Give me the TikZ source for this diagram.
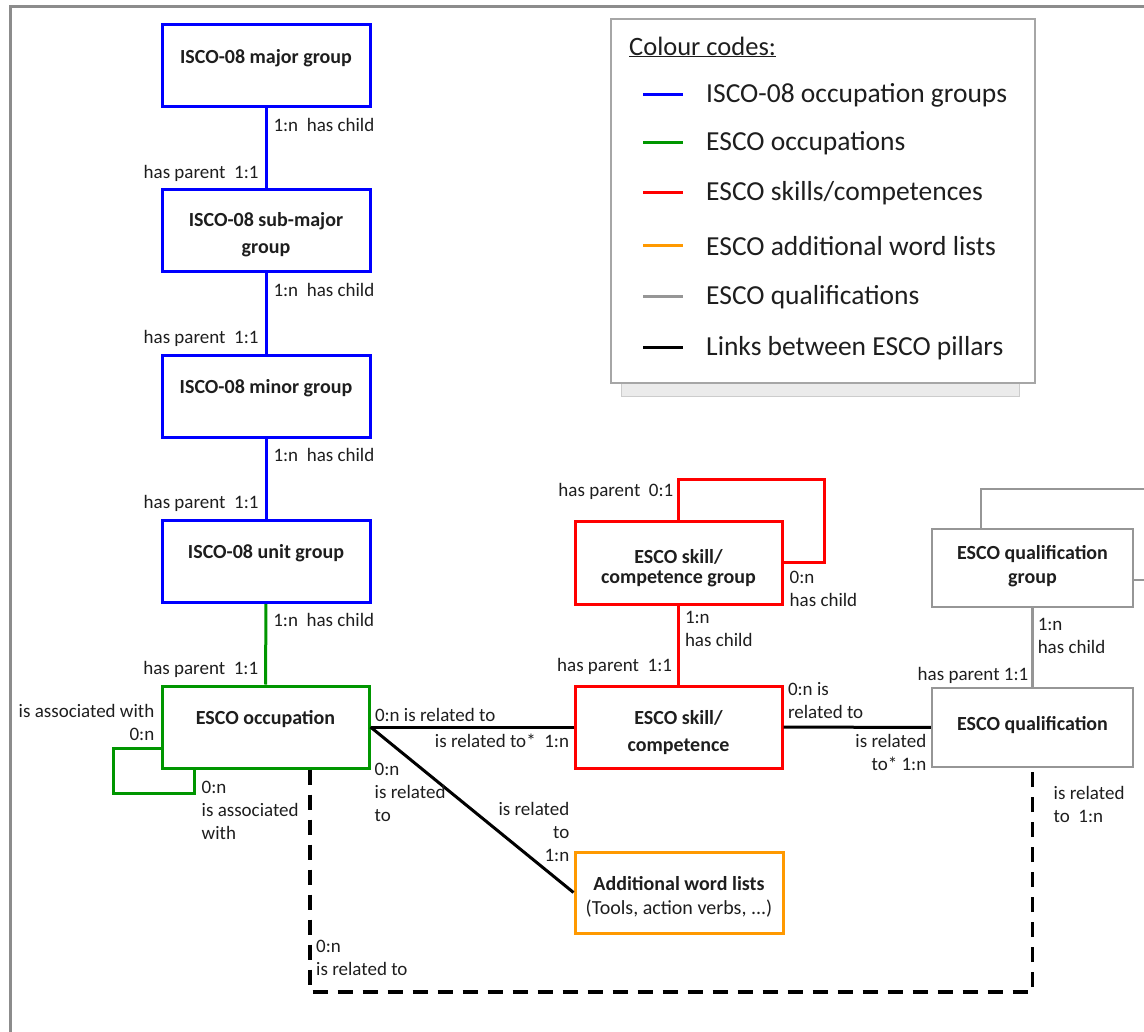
\documentclass[tikz,border=0pt]{standalone}
\usepackage{fontspec}
\setmainfont{Carlito}
\usetikzlibrary{calc}
\definecolor{IscoBlue}{RGB}{0,0,255}
\definecolor{OccGreen}{RGB}{0,150,0}
\definecolor{SkillRed}{RGB}{255,0,0}
\definecolor{WordOrange}{RGB}{255,153,0}
\definecolor{QualGray}{RGB}{150,150,150}
\definecolor{FrameGray}{RGB}{140,140,140}
\definecolor{TextInk}{RGB}{30,30,30}
\tikzset{
  box/.style={draw, line width=3pt, minimum width=208pt, minimum height=82pt,
              align=center, text=TextInk, font=\bfseries\fontsize{20}{27}\selectfont},
  lift/.style={text depth=20pt},   % one-line boxes: text sits above the centre
  lbl/.style={text=TextInk, font=\fontsize{19}{23}\selectfont, inner sep=3pt},
  legtxt/.style={text=TextInk, font=\fontsize{27.5}{32}\selectfont, inner sep=0pt},
  iscoline/.style={draw=IscoBlue, line width=3pt},
  occline/.style={draw=OccGreen, line width=3pt},
  skillline/.style={draw=SkillRed, line width=3pt},
  qualline/.style={draw=QualGray, line width=2.5pt},
  pillarline/.style={draw=black, line width=3pt},
}

\begin{document}
\begin{tikzpicture}[x=1pt,y=-1pt]
  \path[use as bounding box, clip] (0,0) rectangle (1144,1032);
  % outer frame, cut off at the right and the bottom
  \draw[FrameGray, line width=3pt] (10,1040) -- (10,7) -- (1150,7);

  % legend
  \fill[black!8] (621,370) rectangle (1019,396);
  \draw[black!20] (621,370) rectangle (1019,396);
  \node[draw=black!35, fill=white, line width=1.5pt, minimum width=424pt,
        minimum height=364pt] (legend) at (823,201) {};
  \node[legtxt, anchor=west, font=\fontsize{26.5}{32}\selectfont] (legtitle) at (629,47)
    {\underline{Colour codes:}};
  \foreach \y/\col/\txt in {95/IscoBlue/{ISCO-08 occupation groups},
                            143/OccGreen/{ESCO occupations},
                            193/SkillRed/{ESCO skills/competences},
                            246/WordOrange/{ESCO additional word lists},
                            297/QualGray/{ESCO qualifications},
                            348/black/{Links between ESCO pillars}}{
    \draw[\col, line width=3pt] (643,\y) -- (683,\y);
    \node[legtxt, anchor=west] (leg\y) at (706,\y) {\txt};
  }

  % ISCO-08 hierarchy
  \node[box, draw=IscoBlue, lift] (major) at (266,66) {ISCO-08 major group};
  \node[box, draw=IscoBlue, text height=49pt] (submajor) at (266,231) {ISCO-08 sub-major\\group};
  \node[box, draw=IscoBlue, lift] (minor) at (266,396.5) {ISCO-08 minor group};
  \node[box, draw=IscoBlue, lift] (unit) at (266,561.5) {ISCO-08 unit group};
  \node[box, draw=OccGreen, lift, minimum width=207pt] (occ) at (265.5,727) {ESCO occupation};

  \foreach \a/\b/\st in {major/submajor/iscoline, submajor/minor/iscoline,
                         minor/unit/iscoline, unit/occ/occline}{
    \draw[\st] (\a) -- (\b)
      node[lbl, pos=0.2, right=3pt] {1:n~~has child}
      node[lbl, pos=0.81, left=3pt] {has parent~~1:1};
  }

  % occupation self-association
  \draw[occline] ([yshift=-21pt]occ.west) -| ++(-47,45) -| ([xshift=34pt]occ.south west);
  \node[lbl, anchor=south east, align=right] (assocA) at ([xshift=-3pt,yshift=-17pt]occ.west)
    {is associated with\\0:n};
  \node[lbl, anchor=north west, align=left] (assocB) at ([xshift=38pt,yshift=-8pt]occ.south west)
    {0:n\\is associated\\with};

  % skills pillar
  \node[box, draw=SkillRed, minimum width=207pt, minimum height=83pt,
        font=\bfseries\fontsize{20}{20}\selectfont, text height=46pt] (sgroup) at (678.5,562.5)
    {ESCO skill/\\competence group};
  \node[box, draw=SkillRed, minimum width=207pt, text height=52pt] (skill) at (678.5,727)
    {ESCO skill/\\competence};
  \draw[skillline] (sgroup.north) |- (824,479) |- (sgroup.east);
  \node[lbl, anchor=east] (sgparent) at ([xshift=-2pt,yshift=28pt]sgroup.north) {has parent~~0:1};
  \node[lbl, anchor=north west, align=left] (sgchild) at ([xshift=3pt,yshift=-5pt]sgroup.east)
    {0:n\\has child};
  \draw[skillline] (sgroup) -- (skill)
    node[lbl, pos=0.3, right=2pt, align=left] {1:n\\has child}
    node[lbl, pos=0.77, left=2pt] {has parent~~1:1};

  % additional word lists
  \node[box, draw=WordOrange, minimum height=81pt, font=\fontsize{20}{24}\selectfont,
        text height=47pt] (words) at (679,892.5)
    {\textbf{Additional word lists}\\(Tools, action verbs, ...)};

  % qualifications pillar
  \node[box, draw=QualGray, line width=2.5pt, minimum width=201pt, minimum height=78pt,
        font=\bfseries\fontsize{20}{24}\selectfont, text height=34pt]
    (qgroup) at (1032.5,568) {ESCO qualification\\group};
  \node[box, draw=QualGray, line width=2.5pt, minimum width=201pt, minimum height=79pt,
        text depth=9pt] (qual) at (1032.5,727.5) {ESCO qualification};
  \draw[qualline] ([xshift=-51.5pt]qgroup.north) |- (1160,489);
  \draw[qualline] ([yshift=-12pt]qgroup.east) -- ++(30,0);
  \draw[qualline] (qgroup) -- (qual)
    node[lbl, pos=0.35, right=1pt, align=left] {1:n\\has child}
    node[lbl, pos=0.86, left=0pt] {has parent~1:1};

  % links between the pillars
  \draw[pillarline] (occ) -- (skill)
    node[lbl, pos=0, anchor=south west, yshift=1pt] {0:n is related to}
    node[lbl, pos=1, anchor=north east, yshift=-3pt] {is related to*~~1:n};
  \draw[pillarline] (skill) -- (qual)
    node[lbl, pos=0, anchor=south west, align=left, yshift=4pt] {0:n is\\related to}
    node[lbl, pos=1, anchor=north east, align=right, yshift=-2pt] {is related\\to*~1:n};
  \draw[pillarline] (occ.east) -- (words.west);
  \node[lbl, anchor=north west, align=left] (wordsA) at ([xshift=1pt,yshift=10pt]occ.south east)
    {0:n\\is related\\to};
  \node[lbl, anchor=south east, align=right] (wordsB) at ([xshift=-1pt,yshift=-14pt]words.north west)
    {is related\\to\\1:n};

  % dashed occupation -- qualification link
  \coordinate (dashL) at (310,992);
  \coordinate (dashR) at (1032.5,992);
  \draw[pillarline, line width=3.5pt, dash pattern=on 15pt off 10pt]
    (occ.south -| dashL) -- (dashL) -- (dashR) -- (qual.south);
  \node[lbl, anchor=south west, align=left] (dashlbl) at ([xshift=3pt,yshift=13pt]dashL)
    {0:n\\is related to};
  \node[lbl, anchor=north west, align=left] (quallbl) at ([xshift=18pt,yshift=-15pt]qual.south)
    {is related\\to~~1:n};
\end{tikzpicture}
\end{document}
